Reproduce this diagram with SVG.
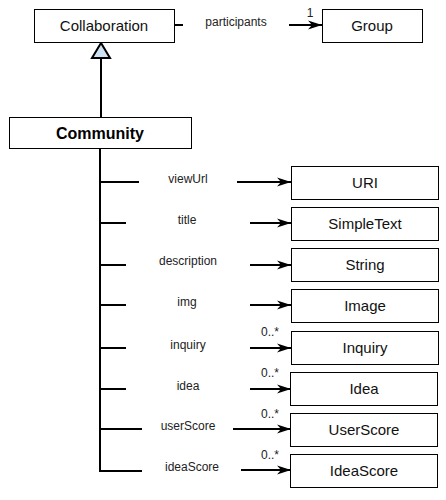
<svg xmlns="http://www.w3.org/2000/svg" width="446" height="500" viewBox="0 0 446 500">
<style>
.box{fill:#fff;stroke:#000;stroke-width:1}
.t{font-family:"Liberation Sans",Arial,sans-serif;font-size:15px;text-anchor:middle;fill:#111}
.b{font-weight:bold;font-size:16px;fill:#000}
.l{font-family:"Liberation Sans",Arial,sans-serif;font-size:12px;text-anchor:middle;fill:#222}
.ln{stroke:#000;stroke-width:2;fill:none}
.ar{stroke:#000;stroke-width:2;fill:none;marker-end:url(#ah)}
</style>
<defs>
<marker id="ah" markerWidth="15" markerHeight="11" refX="14" refY="5.5" orient="auto" markerUnits="userSpaceOnUse">
<path d="M0,1 L14,5.5 L0,10 L4,5.5 z" fill="#000"/>
</marker>
</defs>
<g id="connectors">
<line class="ln" x1="175" y1="25" x2="183" y2="25"/>
<line class="ar" x1="289" y1="25" x2="322" y2="25"/>
<text class="l" x="236" y="26">participants</text>
<text class="l" x="310" y="17">1</text>
<line class="ln" x1="101" y1="58" x2="101" y2="117"/>
<polygon points="101,43 92,58 110,58" fill="#cfe2f3" stroke="#000" stroke-width="2"/>
<polyline class="ln" points="100,148 100,471 142,471"/>
<line class="ln" x1="100" y1="182" x2="139" y2="182"/>
<line class="ar" x1="237" y1="182" x2="291" y2="182"/>
<text class="l" x="188" y="183">viewUrl</text>
<line class="ln" x1="100" y1="223" x2="126" y2="223"/>
<line class="ar" x1="250" y1="223" x2="291" y2="223"/>
<text class="l" x="187" y="224">title</text>
<line class="ln" x1="100" y1="265" x2="126" y2="265"/>
<line class="ar" x1="250" y1="265" x2="291" y2="265"/>
<text class="l" x="188" y="265">description</text>
<line class="ln" x1="100" y1="305" x2="126" y2="305"/>
<line class="ar" x1="250" y1="305" x2="291" y2="305"/>
<text class="l" x="187" y="306">img</text>
<line class="ln" x1="100" y1="348" x2="126" y2="348"/>
<line class="ar" x1="250" y1="348" x2="291" y2="348"/>
<text class="l" x="188" y="349">inquiry</text>
<text class="l" x="270" y="336">0..*</text>
<line class="ln" x1="100" y1="389" x2="126" y2="389"/>
<line class="ar" x1="250" y1="389" x2="291" y2="389"/>
<text class="l" x="188" y="390">idea</text>
<text class="l" x="270" y="377">0..*</text>
<line class="ln" x1="100" y1="429" x2="142" y2="429"/>
<line class="ar" x1="233" y1="429" x2="291" y2="429"/>
<text class="l" x="188" y="430">userScore</text>
<text class="l" x="270" y="418">0..*</text>
<line class="ar" x1="241" y1="470" x2="291" y2="470"/>
<text class="l" x="192" y="471">ideaScore</text>
<text class="l" x="270" y="459">0..*</text>
</g>
<g id="collaboration"><rect class="box" x="34.5" y="9.5" width="140" height="33"/><text class="t" x="104" y="31">Collaboration</text></g>
<g id="group"><rect class="box" x="322.5" y="9.5" width="100" height="33"/><text class="t" x="372" y="31">Group</text></g>
<g id="community"><rect class="box" x="9.5" y="117.5" width="182" height="31"/><text class="t b" x="100" y="139">Community</text></g>
<g id="uri"><rect class="box" x="291.5" y="166.5" width="147" height="33"/><text class="t" x="365" y="188">URI</text></g>
<g id="simpletext"><rect class="box" x="291.5" y="207.5" width="147" height="33"/><text class="t" x="365" y="229">SimpleText</text></g>
<g id="string"><rect class="box" x="291.5" y="248.5" width="147" height="33"/><text class="t" x="365" y="270">String</text></g>
<g id="image"><rect class="box" x="291.5" y="289.5" width="147" height="33"/><text class="t" x="365" y="311">Image</text></g>
<g id="inquiry"><rect class="box" x="291.5" y="331.5" width="147" height="33"/><text class="t" x="365" y="353">Inquiry</text></g>
<g id="idea"><rect class="box" x="290.5" y="372.5" width="147" height="33"/><text class="t" x="364" y="394">Idea</text></g>
<g id="userscore"><rect class="box" x="290.5" y="413.5" width="147" height="33"/><text class="t" x="364" y="435">UserScore</text></g>
<g id="ideascore"><rect class="box" x="290.5" y="454.5" width="147" height="33"/><text class="t" x="364" y="476">IdeaScore</text></g>
</svg>
